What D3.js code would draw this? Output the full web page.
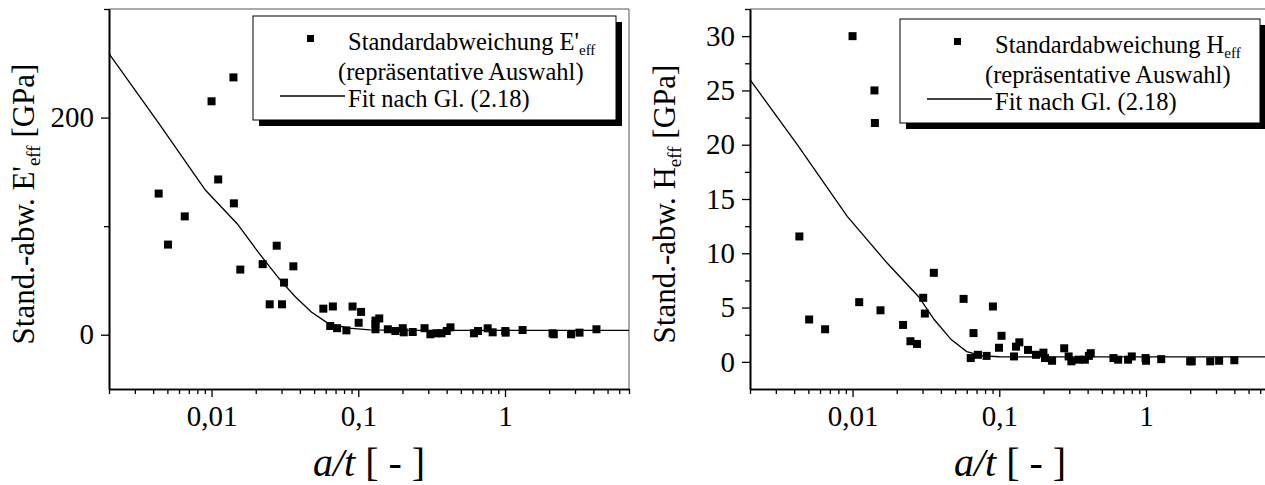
<!DOCTYPE html>
<html>
<head>
<meta charset="utf-8">
<script src="https://cdn.jsdelivr.net/npm/d3@7"></script>
</head>
<body style="margin:0; background:#fff">
<script>
// Left panel: standard deviation of E'eff vs a/t
var eX = [0.00436, 0.00505, 0.00657, 0.0100, 0.0111, 0.0141, 0.0142, 0.0157, 0.0223, 0.0249,
          0.0278, 0.0302, 0.0312, 0.0361, 0.0578, 0.0671, 0.0644, 0.0717, 0.0830, 0.0914,
          0.1045, 0.1006, 0.131, 0.139, 0.131, 0.131, 0.159, 0.179, 0.201, 0.204,
          0.235, 0.283, 0.310, 0.341, 0.369, 0.401, 0.425, 0.614, 0.655, 0.762,
          0.824, 1.005, 1.01, 1.318, 2.11, 2.15, 2.82, 3.22, 4.2];
var eY = [130, 83, 109, 215, 143, 237, 121, 60, 65, 28,
          82, 28, 48, 63, 24, 26, 8, 6, 4, 26,
          21, 11, 13, 15, 5, 10, 5, 3.4, 6, 2.2,
          2.5, 6, 0.4, 1.3, 1.3, 3.4, 6.8, 1.3, 3.4, 5.9,
          2.2, 3.4, 1.9, 4.3, 1.3, 0.4, 0.4, 1.9, 5];
var eFitX = [0.002, 0.0043, 0.0091, 0.0150, 0.0208, 0.0295, 0.0372, 0.0479, 0.0622, 0.0857, 0.12, 0.2, 1, 7];
var eFitY = [259, 196, 133, 102, 76, 50, 35, 21, 10.5, 6, 4.5, 4, 4, 4];

// Right panel: standard deviation of Heff vs a/t
var hX = [0.00434, 0.00506, 0.0065, 0.0100, 0.0111, 0.0141, 0.0142, 0.0155, 0.0221, 0.0248,
          0.0275, 0.0303, 0.0311, 0.0358, 0.0571, 0.0639, 0.0667, 0.0715, 0.0820, 0.0905,
          0.1036, 0.0995, 0.126, 0.130, 0.137, 0.157, 0.178, 0.200, 0.205, 0.229,
          0.277, 0.297, 0.310, 0.348, 0.383, 0.408, 0.420, 0.600, 0.646, 0.755,
          0.800, 0.993, 1.00, 1.27, 2.00, 2.05, 2.74, 3.15, 4.0];
var hY = [11.55, 3.9, 3.0, 30.0, 5.5, 25.0, 22.0, 4.75, 3.4, 1.9,
          1.65, 5.9, 4.45, 8.2, 5.8, 0.35, 2.65, 0.65, 0.55, 5.1,
          2.4, 1.3, 0.5, 1.4, 1.8, 1.1, 0.65, 0.85, 0.35, 0.1,
          1.25, 0.5, 0.05, 0.2, 0.2, 0.55, 0.8, 0.35, 0.2, 0.2,
          0.5, 0.35, 0.1, 0.25, 0.05, 0.05, 0.05, 0.1, 0.15];
var hFitX = [0.002, 0.0042, 0.0092, 0.0172, 0.0282, 0.036, 0.047, 0.06, 0.077, 0.1, 0.2, 1, 7];
var hFitY = [26, 20, 13.4, 9.1, 6.0, 3.9, 2.05, 0.95, 0.56, 0.47, 0.45, 0.45, 0.45];

// Axis ticks
var xDomain = [0.002, 7];
var xMajorTicks = [0.01, 0.1, 1];
var xMinorTicks = [0.002, 0.003, 0.004, 0.005, 0.006, 0.007, 0.008, 0.009,
                   0.02, 0.03, 0.04, 0.05, 0.06, 0.07, 0.08, 0.09,
                   0.2, 0.3, 0.4, 0.5, 0.6, 0.7, 0.8, 0.9,
                   2, 3, 4, 5, 6, 7];
var eDomain = [-50, 300], eMajorTicks = [0, 200], eMinorTicks = [100, 300];
var hDomain = [-2.5, 32.5], hMajorTicks = [0, 5, 10, 15, 20, 25, 30];
var hMinorTicks = [2.5, 7.5, 12.5, 17.5, 22.5, 27.5, 32.5];

var legendLine2 = '(repräsentative Auswahl)';
var legendLine3 = 'Fit nach Gl. (2.18)';

// Layout
var chartWidth = 1265, chartHeight = 485;
var plotTop = 9, plotBottom = 389;
var serifFont = 'Liberation Serif';
var mainChart = d3.select('body').append('svg')
  .attr('width', chartWidth)
  .attr('height', chartHeight)
  .attr('font-family', serifFont)
  .style('display', 'block');

var fmtComma = function(d) { return String(d).replace('.', ','); };

var drawPanel = function(p) {
  let x = d3.scaleLog().domain(xDomain).range([p.left, p.right]);
  let y = d3.scaleLinear().domain(p.yDomain).range([plotBottom, plotTop]);
  let g = mainChart.append('g');

  // frame (top + right)
  g.append('path')
    .attr('d', 'M' + p.left + ',' + plotTop + 'H' + p.right + 'V' + plotBottom)
    .attr('fill', 'none').attr('stroke', '#555').attr('stroke-width', 1);

  // x axis
  let xMinor = g.append('g').attr('transform', 'translate(0,' + plotBottom + ')')
    .call(d3.axisBottom(x).tickValues(xMinorTicks).tickSize(5).tickSizeOuter(0).tickFormat(''));
  let xMajor = g.append('g').attr('transform', 'translate(0,' + plotBottom + ')')
    .call(d3.axisBottom(x).tickValues(xMajorTicks).tickSize(8).tickSizeOuter(0).tickPadding(8).tickFormat(fmtComma));
  // y axis
  let yMinor = g.append('g').attr('transform', 'translate(' + p.left + ',0)')
    .call(d3.axisLeft(y).tickValues(p.yMinor).tickSize(5).tickSizeOuter(0).tickFormat(''));
  let yMajor = g.append('g').attr('transform', 'translate(' + p.left + ',0)')
    .call(d3.axisLeft(y).tickValues(p.yMajor).tickSize(8).tickSizeOuter(0).tickPadding(7).tickFormat(d3.format('d')));

  [xMinor, xMajor, yMinor, yMajor].forEach(a => {
    a.attr('font-family', serifFont).attr('font-size', 29);
    a.selectAll('path.domain').attr('stroke', '#000').attr('stroke-width', 1.6);
    a.selectAll('.tick line').attr('stroke', '#000').attr('stroke-width', 1.3);
    a.selectAll('.tick text').attr('fill', '#000');
  });

  // fit curve
  let line = d3.line().x(d => x(d[0])).y(d => y(d[1]));
  g.append('path')
    .datum(p.fitX.map((v, i) => [v, p.fitY[i]]))
    .attr('d', line)
    .attr('fill', 'none').attr('stroke', '#000').attr('stroke-width', 1.3);

  // data squares
  let s = 8;
  g.selectAll('rect.pt')
    .data(p.dataX.map((v, i) => [v, p.dataY[i]]))
    .enter().append('rect')
    .attr('class', 'pt')
    .attr('x', d => x(d[0]) - s / 2)
    .attr('y', d => y(d[1]) - s / 2)
    .attr('width', s).attr('height', s)
    .attr('fill', '#000');

  // y title (rotated)
  let yt = g.append('text')
    .attr('transform', 'translate(' + p.yTitleX + ',' + ((plotTop + plotBottom) / 2 + 5) + ') rotate(-90)')
    .attr('text-anchor', 'middle')
    .attr('font-size', 31);
  yt.append('tspan').text('Stand.-abw. ' + p.sym);
  yt.append('tspan').attr('dy', 6).attr('font-size', 19).text('eff');
  yt.append('tspan').attr('dy', -6).text(' [GPa]');

  // x title
  let xt = g.append('text')
    .attr('x', (p.left + p.right) / 2).attr('y', 476)
    .attr('text-anchor', 'middle')
    .attr('font-size', 40);
  xt.append('tspan').attr('font-style', 'italic').text('a/t');
  xt.append('tspan').text(' [ - ]');

  // legend with shadow
  let lx = p.legX, ly = p.legY, lw = p.legW, lh = 104;
  g.append('rect').attr('x', lx + 6).attr('y', ly + 6).attr('width', lw).attr('height', lh).attr('fill', '#000');
  g.append('rect').attr('x', lx).attr('y', ly).attr('width', lw).attr('height', lh)
    .attr('fill', '#fff').attr('stroke', '#000').attr('stroke-width', 1);
  g.append('rect').attr('x', lx + 54).attr('y', ly + 19).attr('width', 7).attr('height', 7).attr('fill', '#000');
  let t1 = g.append('text').attr('x', lx + 95).attr('y', ly + 34).attr('font-size', 24.5);
  t1.append('tspan').text('Standardabweichung ' + p.sym);
  t1.append('tspan').attr('dy', 5).attr('font-size', 15).text('eff');
  g.append('text').attr('x', lx + 85).attr('y', ly + 64).attr('font-size', 24.5).text(legendLine2);
  g.append('line').attr('x1', lx + 27).attr('x2', lx + 92).attr('y1', ly + 80).attr('y2', ly + 80)
    .attr('stroke', '#000').attr('stroke-width', 1.3);
  g.append('text').attr('x', lx + 95).attr('y', ly + 91).attr('font-size', 24.5).text(legendLine3);
}

drawPanel({
  left: 109, right: 629, yDomain: eDomain, yMajor: eMajorTicks, yMinor: eMinorTicks,
  dataX: eX, dataY: eY, fitX: eFitX, fitY: eFitY, sym: "E'", yTitleX: 34,
  legX: 253, legY: 16, legW: 363
});
drawPanel({
  left: 750, right: 1270, yDomain: hDomain, yMajor: hMajorTicks, yMinor: hMinorTicks,
  dataX: hX, dataY: hY, fitX: hFitX, fitY: hFitY, sym: 'H', yTitleX: 675,
  legX: 900, legY: 19, legW: 360
});
</script>
</body>
</html>
